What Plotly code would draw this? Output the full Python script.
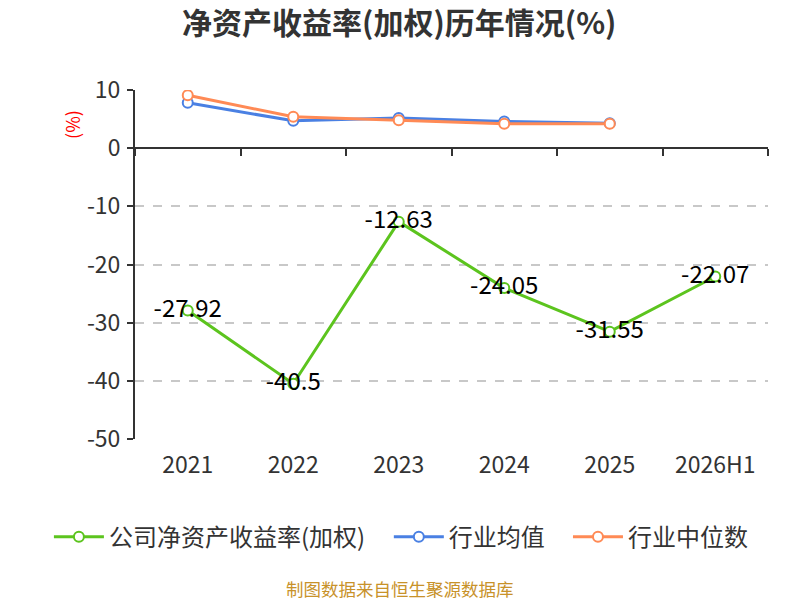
import plotly.graph_objects as go

# 数据
years = ["2021", "2022", "2023", "2024", "2025", "2026H1"]
company_roe = [-27.92, -40.5, -12.63, -24.05, -31.55, -22.07]
industry_avg = [7.8, 4.7, 5.2, 4.6, 4.3]
industry_median = [9.1, 5.4, 4.8, 4.2, 4.2]

y_ticks = [10, 0, -10, -20, -30, -40, -50]
y_tick_labels = ["10", "0", "-10", "-20", "-30", "-40", "-50"]

series_names = ["公司净资产收益率(加权)", "行业均值", "行业中位数"]
colors = ["#5cc41e", "#4a80e3", "#ff8a55"]

FONT = "Noto Sans CJK SC"

fig = go.Figure()

# 公司 ROE
fig.add_trace(go.Scatter(
    x=years, y=company_roe, name=series_names[0], legend="legend",
    mode="lines+markers+text",
    line=dict(color=colors[0], width=3),
    marker=dict(symbol="circle", size=10, color="white", line=dict(color=colors[0], width=2)),
    text=[f"{v:g}" for v in company_roe],
    textposition="middle center",
    textfont=dict(size=24, color="black", family=FONT),
    cliponaxis=False,
))

# 行业均值 / 中位数
for name, vals, c, lg in [(series_names[1], industry_avg, colors[1], "legend2"),
                          (series_names[2], industry_median, colors[2], "legend3")]:
    fig.add_trace(go.Scatter(
        x=years[:len(vals)], y=vals, name=name, legend=lg,
        mode="lines+markers",
        line=dict(color=c, width=3),
        marker=dict(symbol="circle", size=10, color="white", line=dict(color=c, width=2)),
    ))

# y=0 处的类目轴线（带刻度）
fig.add_trace(go.Scatter(x=years, y=[None] * len(years), xaxis="x2", showlegend=False, hoverinfo="skip"))

legend_common = dict(orientation="h", xanchor="left", y=-0.281, yanchor="middle",
                     font=dict(size=24, color="#333333", family=FONT), itemwidth=50)

fig.update_layout(
    width=792, height=592,
    plot_bgcolor="white", paper_bgcolor="white",
    margin=dict(l=127, r=32, t=82, b=161),
    font=dict(family=FONT, color="#333333"),
    title=dict(text="<b>净资产收益率(加权)历年情况(%)</b>", x=0.494, xanchor="center",
               y=0.974, yanchor="middle", font=dict(size=30, color="#333333", family=FONT)),
    showlegend=True,
    legend=dict(x=-0.136, **legend_common),
    legend2=dict(x=0.401, **legend_common),
    legend3=dict(x=0.684, **legend_common),
    xaxis=dict(type="category", range=[-0.5, len(years) - 0.5], showline=False, ticks="",
               showgrid=False, tickfont=dict(size=23, color="#333333"), ticklabelstandoff=10),
    xaxis2=dict(type="category", overlaying="x", anchor="free", position=50 / 60, side="bottom",
                showline=True, linecolor="#333333", linewidth=2, ticks="outside",
                tickson="boundaries", ticklen=7, tickwidth=2, tickcolor="#333333",
                showticklabels=False, showgrid=False, matches="x"),
    yaxis=dict(range=[-50, 10], tickvals=y_ticks, ticktext=y_tick_labels,
               showline=True, linecolor="#333333", linewidth=2,
               ticks="outside", ticklen=6, tickwidth=2, tickcolor="#333333",
               showgrid=True, gridcolor="#c8c8c8", griddash="dash", gridwidth=1.5,
               zeroline=False, tickfont=dict(size=23, color="#333333"), ticklabelstandoff=2),
    annotations=[
        dict(text="(%)", xref="paper", yref="paper", x=-0.0995, y=0.90, showarrow=False,
             xanchor="center", yanchor="middle",
             textangle=-90, font=dict(size=18, color="red", family=FONT)),
        dict(text="制图数据来自恒生聚源数据库", xref="paper", yref="paper", x=0.419, y=-0.428,
             xanchor="center", yanchor="middle",
             showarrow=False, font=dict(size=17.5, color="#c8922a", family=FONT)),
    ],
)

fig.write_html("out.html")
